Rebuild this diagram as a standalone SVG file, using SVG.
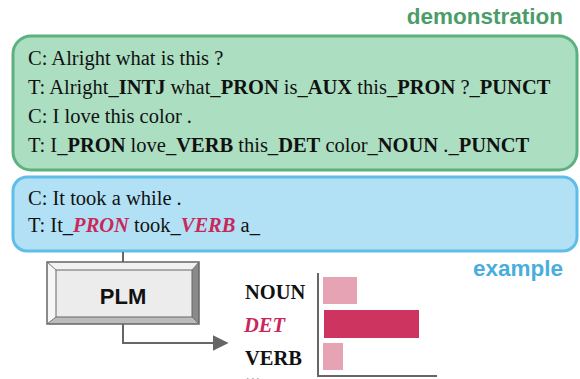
<svg xmlns="http://www.w3.org/2000/svg" width="580" height="379" viewBox="0 0 580 379">
<style>
.t{font-family:"Liberation Serif","Times New Roman",serif;font-size:20.5px;fill:#111}
.b{font-weight:bold}
.r{font-weight:bold;font-style:italic;fill:#c9285a}
.h{font-family:"Liberation Sans",Arial,sans-serif;font-weight:bold;font-size:22.5px}
.lbl{font-family:"Liberation Serif","Times New Roman",serif;font-size:20.5px;font-weight:bold;fill:#111}
.lbl.red{font-style:italic;fill:#c9285a}
</style>
<defs>
<marker id="ar" viewBox="0 0 10 10" refX="9" refY="5" markerWidth="16" markerHeight="16" markerUnits="userSpaceOnUse" orient="auto">
<path d="M0,0 L10,5 L0,10 z" fill="#666"/>
</marker>
</defs>
<text class="h" x="563" y="24" text-anchor="end" fill="#4a9d68">demonstration</text>
<g id="demo">
<rect x="13" y="36" width="564" height="134" rx="18" fill="#acdec2" stroke="#5cb17f" stroke-width="3"/>
<text class="t" x="28" y="65">C: Alright what is this ?</text>
<text class="t" x="28" y="94">T: Alright_<tspan class="b">INTJ</tspan> what_<tspan class="b">PRON</tspan> is_<tspan class="b">AUX</tspan> this_<tspan class="b">PRON</tspan> ?_<tspan class="b">PUNCT</tspan></text>
<text class="t" x="28" y="123">C: I love this color .</text>
<text class="t" x="28" y="152">T: I_<tspan class="b">PRON</tspan> love_<tspan class="b">VERB</tspan> this_<tspan class="b">DET</tspan> color_<tspan class="b">NOUN</tspan> ._<tspan class="b">PUNCT</tspan></text>
</g>
<g id="example">
<rect x="13" y="177" width="564" height="74" rx="14" fill="#b2e1f6" stroke="#5fbee8" stroke-width="3"/>
<text class="t" x="28" y="205">C: It took a while .</text>
<text class="t" x="28" y="232">T: It_<tspan class="r">PRON</tspan> took_<tspan class="r">VERB</tspan> a_</text>
</g>
<text class="h" x="563" y="276" text-anchor="end" fill="#4aaedc">example</text>
<g id="plm">
<rect x="47" y="262" width="152" height="62" fill="#ececec"/>
<polygon points="47,262 199,262 192,270 56,270" fill="#f2f2f2"/>
<polygon points="47,262 56,270 56,317 47,324" fill="#f6f6f6"/>
<polygon points="199,262 199,324 192,317 192,270" fill="#8a8a8a"/>
<polygon points="47,324 199,324 192,317 56,317" fill="#bcbcbc"/>
<rect x="56" y="270" width="136" height="47" fill="#ececec" stroke="#666" stroke-width="1"/>
<rect x="47" y="262" width="152" height="62" fill="none" stroke="#666" stroke-width="1.5"/>
<line x1="47" y1="262" x2="56" y2="270" stroke="#777" stroke-width="1"/>
<line x1="199" y1="262" x2="192" y2="270" stroke="#777" stroke-width="1"/>
<line x1="47" y1="324" x2="56" y2="317" stroke="#777" stroke-width="1"/>
<line x1="199" y1="324" x2="192" y2="317" stroke="#777" stroke-width="1"/>
<text x="123" y="304" text-anchor="middle" font-family="Liberation Sans,Arial,sans-serif" font-weight="bold" font-size="22" fill="#111">PLM</text>
</g>
<g id="connectors">
<line x1="123" y1="252" x2="123" y2="262" stroke="#666" stroke-width="2"/>
<polyline points="123,324 123,343 227,343" fill="none" stroke="#666" stroke-width="2" marker-end="url(#ar)"/>
</g>
<g id="chart">
<polyline points="318,273 318,376 437,376" fill="none" stroke="#666" stroke-width="2"/>
<rect x="323" y="277" width="34" height="27" fill="#e5a3b3"/>
<rect x="324" y="310" width="95" height="28" fill="#cd3560"/>
<rect x="323" y="343" width="20" height="27" fill="#e5a3b3"/>
<text class="lbl" x="245" y="299">NOUN</text>
<text class="lbl red" x="244" y="332">DET</text>
<text class="lbl" x="245" y="365">VERB</text>
<text class="lbl" x="245" y="382">...</text>
</g>
</svg>
